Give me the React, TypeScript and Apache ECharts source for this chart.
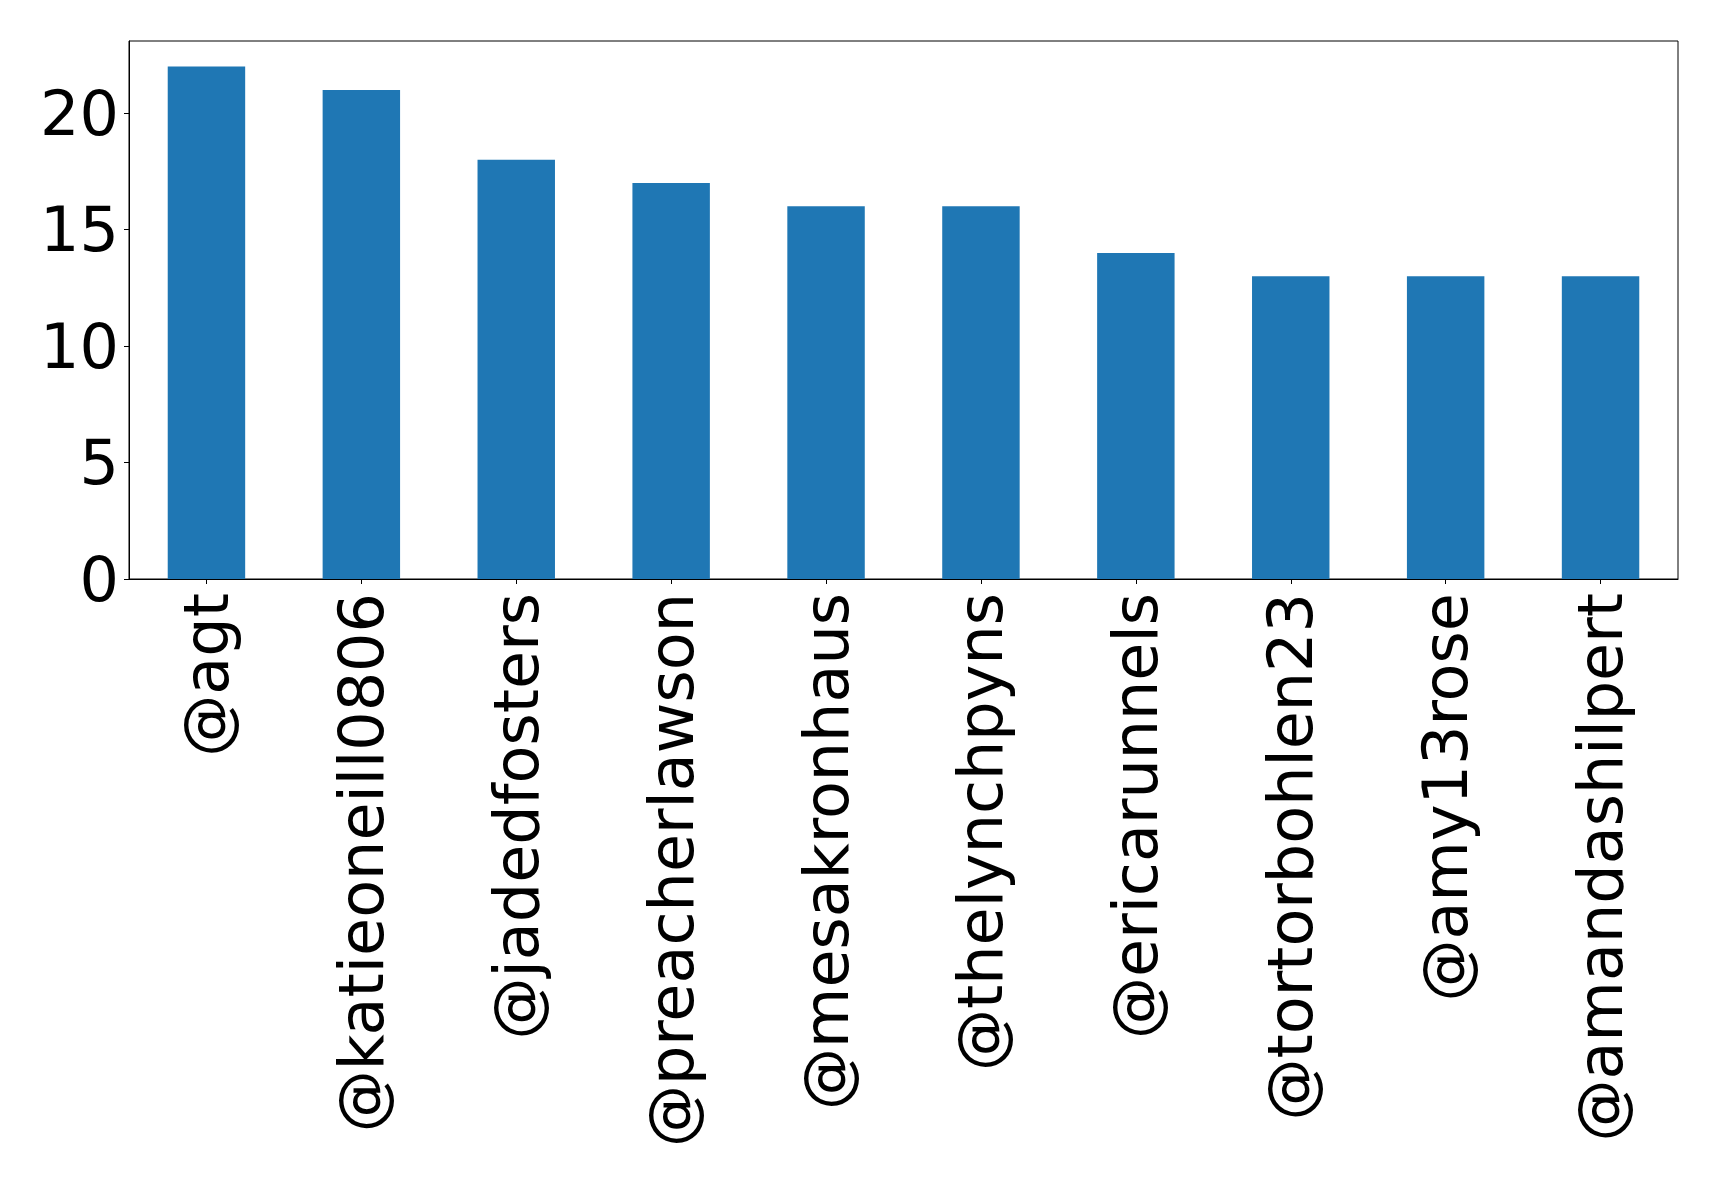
import React, { useEffect, useRef } from "react";
import * as echarts from "echarts";

const categories = [
  "@agt",
  "@katieoneill0806",
  "@jadedfosters",
  "@preacherlawson",
  "@mesakronhaus",
  "@thelynchpyns",
  "@ericarunnels",
  "@tortorbohlen23",
  "@amy13rose",
  "@amandashilpert",
];
const values = [22, 21, 18, 17, 16, 16, 14, 13, 13, 13];
const yTicks = [0, 5, 10, 15, 20];
const yMax = 23.1;

export default function App() {
  const ref = useRef<HTMLDivElement>(null);
  useEffect(() => {
    if (!ref.current) return;
    const chart = echarts.init(ref.current, null, { renderer: "svg" });
    const font = "DejaVu Sans";
    chart.setOption({
      animation: false,
      backgroundColor: "#ffffff",
      grid: {
        left: 129,
        right: 41,
        top: 41,
        bottom: 608,
        show: true,
        borderColor: "#000",
        borderWidth: 1,
        backgroundColor: "transparent",
      },
      xAxis: {
        type: "category",
        data: categories,
        boundaryGap: true,
        axisLine: { show: true, lineStyle: { color: "#000", width: 1 } },
        axisTick: { show: true, alignWithLabel: true, length: 5, lineStyle: { color: "#000", width: 1 } },
        axisLabel: {
          interval: 0,
          rotate: 90,
          fontSize: 62,
          fontFamily: font,
          color: "#000",
          margin: 14,
        },
        splitLine: { show: false },
      },
      yAxis: {
        type: "value",
        min: 0,
        max: yMax,
        interval: 5,
        axisLine: { show: true, lineStyle: { color: "#000", width: 1 } },
        axisTick: { show: true, length: 5, customValues: yTicks, lineStyle: { color: "#000", width: 1 } },
        axisLabel: {
          customValues: yTicks,
          fontSize: 62,
          fontFamily: font,
          color: "#000",
          margin: 10,
        },
        splitLine: { show: false },
      },
      series: [
        {
          type: "bar",
          data: values,
          barWidth: "50%",
          itemStyle: { color: "#1f77b4" },
        },
      ],
    });
    return () => chart.dispose();
  }, []);
  return (
    <div
      ref={ref}
      style={{ position: "fixed", left: 0, top: 0, width: 1719, height: 1187, background: "#fff" }}
    />
  );
}
